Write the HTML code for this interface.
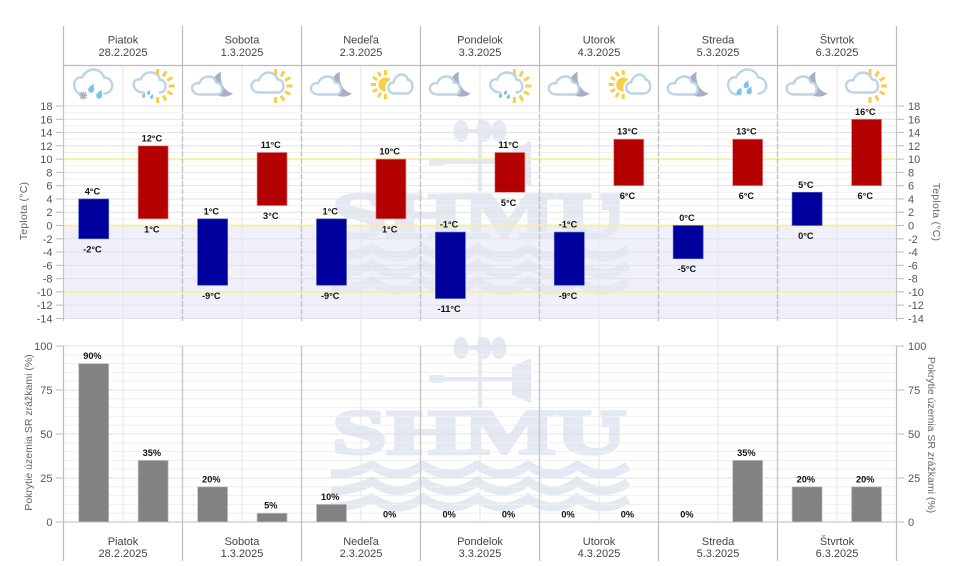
<!DOCTYPE html>
<html lang="sk">
<head>
<meta charset="utf-8">
<title>Predpoveď teploty a zrážok</title>
<style>
html,body{margin:0;padding:0;background:#fff;width:957px;height:566px;overflow:hidden}
svg{display:block;font-family:"Liberation Sans",Arial,sans-serif}
</style>
</head>
<body>
<svg id="chart" width="957" height="566" viewBox="0 0 957 566" xmlns="http://www.w3.org/2000/svg">
<defs>
<path id="cloud-big" d="M-10 9C-15 9-19 5-19-1C-19-6-15-9-11-8C-9-13-4-16 0-16C6-16 10-12 11-8C15-8 19-5 19 0C19 5 15 8 11 8" fill="none" stroke="#bcd4e8" stroke-width="2.4" stroke-linecap="round"/>
<path id="cloud-small" d="M-12 9C-17 9-20 6-20 3C-20-1-16-3-13-2C-11-7-7-9-3-9C1-9 3-7 4-3C8-3 10 0 10 4C10 7 8 9 5 9Z" fill="#fff" stroke="#bcd4e8" stroke-width="2.4" stroke-linejoin="round"/>
<path id="drop" d="M2.5-4.5C2-1.5 4.2 1 2 3.5C0 5.2-3 4-3 1C-3-1 0-3.2 2.5-4.5Z" fill="#7cc3e8"/>
<g id="sun-rays-right" stroke="#f5cf4b" stroke-width="3">
<line x1="4" y1="-10.5" x2="4" y2="-16.5"/><line x1="9.5" y1="-9" x2="12.5" y2="-14.2"/><line x1="13.5" y1="-5" x2="18.7" y2="-8"/><line x1="15" y1="0.5" x2="21" y2="0.5"/><line x1="13.5" y1="6" x2="18.7" y2="9"/><line x1="9.5" y1="10" x2="12.5" y2="15.2"/><line x1="4" y1="11.5" x2="4" y2="17.5"/>
</g>
<g id="icon-rain-snow">
<use href="#cloud-big"/><use href="#drop" transform="translate(-2,3)"/><use href="#drop" transform="translate(6,9)"/>
<g stroke="#a9b2c4" stroke-width="1.6"><line x1="-14" y1="10" x2="-6" y2="10"/><line x1="-10" y1="6" x2="-10" y2="14"/><line x1="-13" y1="7" x2="-7" y2="13"/><line x1="-7" y1="7" x2="-13" y2="13"/></g>
</g>
<g id="icon-sun-rain">
<use href="#sun-rays-right" transform="translate(1,0)"/>
<path d="M-9 7C-14 7-19 4-19-1C-19-5-15-7-12-6C-10-11-6-13-2-13C3-13 7-10 7-6C10-6 13-3 13 1C13 5 10 7 7 7" fill="#fff" stroke="#bcd4e8" stroke-width="2.4" stroke-linecap="round"/>
<use href="#drop" transform="translate(-4,7) scale(.55)"/><use href="#drop" transform="translate(-9,10) scale(.55)"/><use href="#drop" transform="translate(-1,11) scale(.55)"/>
</g>
<g id="icon-moon-cloud">
<path d="M9-14C8-8 9-2 12 2C14 5 17 7 21 8C16 12 9 12 4 9C-3 4-2-8 9-14Z" fill="#a9adc6"/>
<use href="#cloud-small"/>
</g>
<g id="icon-sun-cloud">
<use href="#sun-rays-right"/>
<path d="M-12 7C-17 7-20 4-20 0C-20-4-16-6-13-5C-11-10-7-13-3-13C1-13 5-10 6-6C10-6 12-3 12 1C12 5 9 7 6 7Z" fill="#fff" stroke="#bcd4e8" stroke-width="2.4" stroke-linejoin="round"/>
</g>
<g id="icon-sun-left">
<circle cx="-5" cy="-1" r="7" fill="#f5cf4b"/>
<g stroke="#f5cf4b" stroke-width="3"><line x1="-5" y1="8.5" x2="-5" y2="13.5"/><line x1="-9.75" y1="7.2" x2="-12.25" y2="11.6"/><line x1="-13.2" y1="3.75" x2="-17.6" y2="6.25"/><line x1="-14.5" y1="-1" x2="-19.5" y2="-1"/><line x1="-13.2" y1="-5.75" x2="-17.6" y2="-8.25"/><line x1="-9.75" y1="-9.2" x2="-12.25" y2="-13.6"/><line x1="-5" y1="-10.5" x2="-5" y2="-15.5"/></g>
<path d="M4 8C0 8-2 5-2 2C-2-1 0-3 3-3C4-8 8-11 11-11C15-11 17-8 17-6C20-6 22-3 22 1C22 5 19 8 16 8Z" fill="#fff" stroke="#fff" stroke-width="6"/>
<path d="M4 8C0 8-2 5-2 2C-2-1 0-3 3-3C4-8 8-11 11-11C15-11 17-8 17-6C20-6 22-3 22 1C22 5 19 8 16 8Z" fill="#fff" stroke="#bcd4e8" stroke-width="2.4" stroke-linejoin="round"/>
</g>
<g id="icon-rain">
<use href="#cloud-big"/><use href="#drop" transform="translate(-1,-1) scale(.9)"/><use href="#drop" transform="translate(-8,6) scale(.9)"/><use href="#drop" transform="translate(2,5) scale(.9)"/>
</g>
<g id="watermark-art">
<ellipse cx="461" cy="348" rx="7.5" ry="11"/><ellipse cx="484" cy="348" rx="7.5" ry="11"/><ellipse cx="499" cy="348" rx="7.5" ry="11"/>
<rect x="465" y="346" width="32" height="4"/><rect x="478" y="337" width="4" height="71"/>
<rect x="438" y="377" width="76" height="4"/><rect x="429" y="375" width="15" height="8" rx="3"/>
<polygon points="512,367 531,358 531,403 512,395"/>
<text x="332" y="453.5" font-family="'Liberation Serif',serif" font-weight="700" font-size="63" textLength="295" lengthAdjust="spacingAndGlyphs" stroke="#e3e8f3" stroke-width="3">SHMU</text>
<rect x="602" y="412" width="13" height="15"/>
<g fill="none" stroke="#e3e8f3" stroke-width="9">
<path id="wave-1" d="M331 474Q355 474 372 465Q385 474 397 474Q410 474 423 465Q436 474 450 474Q465 474 477 465Q490 474 503 474Q516 474 528 465Q541 474 553 474Q566 474 577 465Q590 474 603 474Q616 474 628 466"/>
<use href="#wave-1" y="16.5"/><use href="#wave-1" y="33"/>
</g>
</g>
</defs>
</svg>
<script>
const dayNames = ["Piatok","Sobota","Nedeľa","Pondelok","Utorok","Streda","Štvrtok"];
const dayDates = ["28.2.2025","1.3.2025","2.3.2025","3.3.2025","4.3.2025","5.3.2025","6.3.2025"];
const iconKinds = ["rain-snow","sun-rain","moon-cloud","sun-cloud","moon-cloud","sun-left","moon-cloud","sun-rain","moon-cloud","sun-left","moon-cloud","rain","moon-cloud","sun-cloud"];
const tempHigh = [4,12,1,11,1,10,-1,11,-1,13,0,13,5,16];
const tempLow = [-2,1,-9,3,-9,1,-11,5,-9,6,-5,6,0,6];
const precipValues = [90,35,20,5,10,0,0,0,0,0,0,35,20,20];
const tempTickLabels = [18,16,14,12,10,8,6,4,2,0,-2,-4,-6,-8,-10,-12,-14];
const tempMinorLines = [17,15,13,11,9,7,5,3,1,-1,-3,-5,-7,-9,-11,-13];
const tempRefLines = [10,0,-10];
const precipTickLabels = [100,75,50,25,0];
const precipMinorLines = [95,90,85,80,70,65,60,55,45,40,35,30,20,15,10,5];

const NS = "http://www.w3.org/2000/svg";
const svg = document.getElementById("chart");
const yTemp = v => 225.5 - v * 6.64;
const yPrecip = v => 522 - v * 1.76;
const xDay = d => 63.5 + 119 * d;
const xHalf = d => 123 + 119 * d;
const xSlot = i => 93.7 + 59.45 * i;

function mk(tag, attrs, txt) {
  const el = document.createElementNS(NS, tag);
  for (const k in attrs) el.setAttribute(k, attrs[k]);
  if (txt !== undefined) el.textContent = txt;
  svg.appendChild(el);
  return el;
}
function hline(x1, x2, y, color, w) { return mk("line", {x1:x1, x2:x2, y1:y, y2:y, stroke:color, "stroke-width":w}); }
function vline(x, y1, y2, color, w, dash) {
  const a = {x1:x, x2:x, y1:y1, y2:y2, stroke:color, "stroke-width":w};
  if (dash) a["stroke-dasharray"] = dash;
  return mk("line", a);
}
let el;

/* plot band */
el = mk("rect", {x:64, y:yTemp(0), width:832.5, height:yTemp(-14)-yTemp(0), fill:"#f0f0fc"});



/* watermarks */
el = mk("use", {href:"#watermark-art", fill:"#e3e8f3", y:-217});


el = mk("use", {href:"#watermark-art", fill:"#e3e8f3"});



/* grid */
tempMinorLines.forEach(v => {
  el = hline(64, 896.5, yTemp(v), "#f0f0f0", 1);
  
  
});
tempTickLabels.forEach(v => {
  el = hline(64, 896.5, yTemp(v), "#e2e2e2", 1);
  
  
});
precipMinorLines.forEach(v => {
  el = hline(64, 896.5, yPrecip(v), "#f0f0f0", 1);
  
  
});
precipTickLabels.forEach(v => {
  el = hline(64, 896.5, yPrecip(v), v === 0 ? "#bbbbbb" : "#e0e0e0", 1);
  
  
});
tempRefLines.forEach(v => {
  el = hline(64, 896.5, yTemp(v), "#f6f0a2", 2);
  
  
});

/* half-day lines */
dayNames.forEach((n, d) => {
  el = vline(xHalf(d), 65, 522, "#e6e6e6", 1);
  
  
});

/* frame and day separators */
for (let d = 0; d <= 7; d++) {
  const x = xDay(d);
  const outer = d === 0 || d === 7;
  el = vline(x, 26, 106, "#bbbbbb", 1.2);
  
  
  el = vline(x, 106, 321, "#c4c4c4", outer ? 1.2 : 1.4, outer ? "" : "6 1.5");
  
  
  el = vline(x, 346, 522, outer ? "#bbbbbb" : "#c8c8c8", outer ? 1.2 : 1.4);
  
  
  el = vline(x, 522, 561, "#bbbbbb", 1.2);
  
  
}
el = hline(63.5, 896.5, 65.5, "#bbbbbb", 1.2);



/* day labels */
dayNames.forEach((n, d) => {
  const cx = xDay(d) + 59.5;
  [[43.5, n], [56, dayDates[d]], [545, n], [557, dayDates[d]]].forEach((p, k) => {
    el = mk("text", {x:cx, y:p[0], "text-anchor":"middle", "font-size":11, fill:"#444"}, p[1]);
    
    
  });
});

/* icons */
iconKinds.forEach((k, i) => {
  el = mk("use", {href:"#icon-" + k, x:xSlot(i) - 0.5, y:85.5});
  
  
});

/* ticks */
tempTickLabels.forEach(v => {
  const y = yTemp(v);
  el = hline(56, 63.5, y, "#bbbbbb", 1);
  
  
  el = hline(896.5, 904, y, "#bbbbbb", 1);
  
  
  el = mk("text", {x:52.5, y:y + 4, "text-anchor":"end", "font-size":11, fill:"#555"}, v);
  
  
  el = mk("text", {x:908, y:y + 4, "font-size":11, fill:"#555"}, v);
  
  
});
precipTickLabels.forEach(v => {
  const y = yPrecip(v);
  el = hline(56, 63.5, y, "#bbbbbb", 1);
  
  
  el = hline(896.5, 904, y, "#bbbbbb", 1);
  
  
  el = mk("text", {x:52.5, y:y + 4, "text-anchor":"end", "font-size":11, fill:"#555"}, v);
  
  
  el = mk("text", {x:908, y:y + 4, "font-size":11, fill:"#555"}, v);
  
  
});

/* axis titles */
el = mk("text", {transform:"translate(27,211) rotate(-90)", "text-anchor":"middle", "font-size":10.5, "letter-spacing":".25", fill:"#666"}, "Teplota (°C)");


el = mk("text", {transform:"translate(933,212) rotate(90)", "text-anchor":"middle", "font-size":10.5, "letter-spacing":".25", fill:"#666"}, "Teplota (°C)");


el = mk("text", {transform:"translate(32,432.5) rotate(-90)", "text-anchor":"middle", "font-size":10.5, fill:"#666"}, "Pokrytie územia SR zrážkami (%)");


el = mk("text", {transform:"translate(928,435) rotate(90)", "text-anchor":"middle", "font-size":10.5, fill:"#666"}, "Pokrytie územia SR zrážkami (%)");



/* temperature bars */
tempHigh.forEach((hi, i) => {
  const lo = tempLow[i];
  const night = i % 2 === 0;
  const yt = yTemp(hi), yb = yTemp(lo);
  el = mk("rect", {x:xSlot(i) - 15, y:yt, width:30, height:yb - yt, fill:night ? "#00009c" : "#b30000", stroke:night ? "#5060c0" : "#e58a8a", "stroke-width":.7});
  
  
  el = mk("text", {x:xSlot(i) - 1.3, y:yt - 4.5, "text-anchor":"middle", "font-size":9.2, "font-weight":700, fill:"#111"}, hi + "°C");
  
  
  el = mk("text", {x:xSlot(i) - 1.3, y:yb + 13.5, "text-anchor":"middle", "font-size":9.2, "font-weight":700, fill:"#111"}, lo + "°C");
  
  
});

/* precipitation bars */
precipValues.forEach((v, i) => {
  const y = yPrecip(v);
  if (v > 0) {
    el = mk("rect", {x:xSlot(i) - 15, y:y, width:30, height:522 - y, fill:"#828282", stroke:"#c4c4c4", "stroke-width":.7});
    
    
  }
  el = mk("text", {x:xSlot(i) - 1.3, y:y - 4.5, "text-anchor":"middle", "font-size":9.2, "font-weight":700, fill:"#111"}, v + "%");
  
  
});
</script>
</body>
</html>
